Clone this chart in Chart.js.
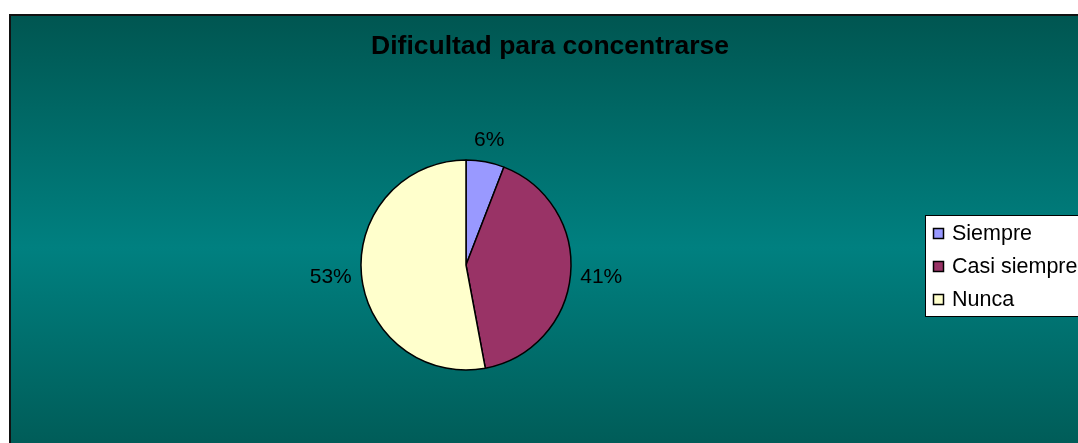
<!DOCTYPE html>
<html>
<head>
<meta charset="utf-8">
<script src="https://cdn.jsdelivr.net/npm/chart.js@4/dist/chart.umd.min.js"></script>
<style>
  html, body { margin: 0; padding: 0; background: #ffffff; }
  #wrap { width: 1078px; height: 443px; position: relative; }
</style>
</head>
<body>
<div id="wrap"><canvas id="pie" width="1078" height="443"></canvas></div>
<script>
// Chart data
const chartTitle = 'Dificultad para concentrarse';
const categories = ['Siempre', 'Casi siempre', 'Nunca'];
const counts = [3, 21, 27];
const sliceColors = ['#9999FF', '#993366', '#FFFFCC'];

/**
 * Background: white margin, dark border, teal vertical gradient, title
 */
const backgroundPlugin = {
    id: 'excelBackground',
    beforeDraw(chart) {
        const ctx = chart.ctx;
        const w = chart.width, h = chart.height;
        ctx.save();
        ctx.fillStyle = '#ffffff';
        ctx.fillRect(0, 0, w, h);

        const grad = ctx.createLinearGradient(0, 15, 0, 480);
        grad.addColorStop(0, '#005651');
        grad.addColorStop(0.5, '#008080');
        grad.addColorStop(1, '#005651');
        ctx.fillStyle = grad;
        ctx.fillRect(10, 15, w - 10, h - 15);

        // frame border (top and left visible)
        ctx.strokeStyle = '#111111';
        ctx.lineWidth = 2;
        ctx.beginPath();
        ctx.moveTo(10, h);
        ctx.lineTo(10, 15);
        ctx.lineTo(w, 15);
        ctx.stroke();

        // title
        ctx.fillStyle = '#000000';
        ctx.font = 'bold 26.5px "Liberation Sans", Arial, sans-serif';
        ctx.textAlign = 'center';
        ctx.textBaseline = 'middle';
        ctx.fillText(chartTitle, 550, 47);
        ctx.restore();
    }
};

/**
 * Percentage labels outside each slice
 */
const percentLabelPlugin = {
    id: 'percentLabels',
    afterDatasetsDraw(chart) {
        const ctx = chart.ctx;
        const meta = chart.getDatasetMeta(0);
        const values = chart.data.datasets[0].data;
        const total = values.reduce((a, b) => a + b, 0);
        ctx.save();
        ctx.font = '21px "Liberation Sans", Arial, sans-serif';
        ctx.fillStyle = '#000000';
        ctx.textAlign = 'center';
        ctx.textBaseline = 'middle';
        meta.data.forEach((arc, i) => {
            const text = Math.round(values[i] / total * 100) + '%';
            const mid = (arc.startAngle + arc.endAngle) / 2;
            const cx = Math.cos(mid), cy = Math.sin(mid);
            const halfW = ctx.measureText(text).width / 2;
            const halfH = 10;
            const dist = arc.outerRadius + 9 + halfW * Math.abs(cx) + halfH * Math.abs(cy);
            ctx.fillText(text, arc.x + cx * dist, arc.y + cy * dist);
        });
        ctx.restore();
    }
};

/**
 * Boxed legend on the right side
 */
const boxLegendPlugin = {
    id: 'boxLegend',
    afterDraw(chart) {
        const ctx = chart.ctx;
        const colors = chart.data.datasets[0].backgroundColor;
        ctx.save();
        ctx.fillStyle = '#ffffff';
        ctx.fillRect(925, 215, 160, 102);
        ctx.strokeStyle = '#000000';
        ctx.lineWidth = 1;
        ctx.strokeRect(925.5, 215.5, 160, 101);

        ctx.font = '21.5px "Liberation Sans", Arial, sans-serif';
        ctx.textAlign = 'left';
        ctx.textBaseline = 'middle';
        chart.data.labels.forEach((label, i) => {
            const y = 233 + i * 33;
            ctx.fillStyle = colors[i];
            ctx.fillRect(933, y - 5, 11, 11);
            ctx.strokeStyle = '#000000';
            ctx.lineWidth = 1.5;
            ctx.strokeRect(933.5, y - 4.5, 10, 10);
            ctx.fillStyle = '#000000';
            ctx.fillText(label, 952, y + 1);
        });
        ctx.restore();
    }
};

new Chart(document.getElementById('pie'), {
    type: 'pie',
    data: {
        labels: categories,
        datasets: [{
            data: counts,
            backgroundColor: sliceColors,
            borderColor: '#000000',
            borderWidth: 1.5
        }]
    },
    options: {
        responsive: false,
        animation: false,
        events: [],
        radius: 105,
        layout: {
            padding: { left: 361, right: 507, top: 160, bottom: 73 }
        },
        plugins: {
            legend: { display: false },
            title: { display: false },
            tooltip: { enabled: false }
        }
    },
    plugins: [backgroundPlugin, percentLabelPlugin, boxLegendPlugin]
});
</script>
</body>
</html>
